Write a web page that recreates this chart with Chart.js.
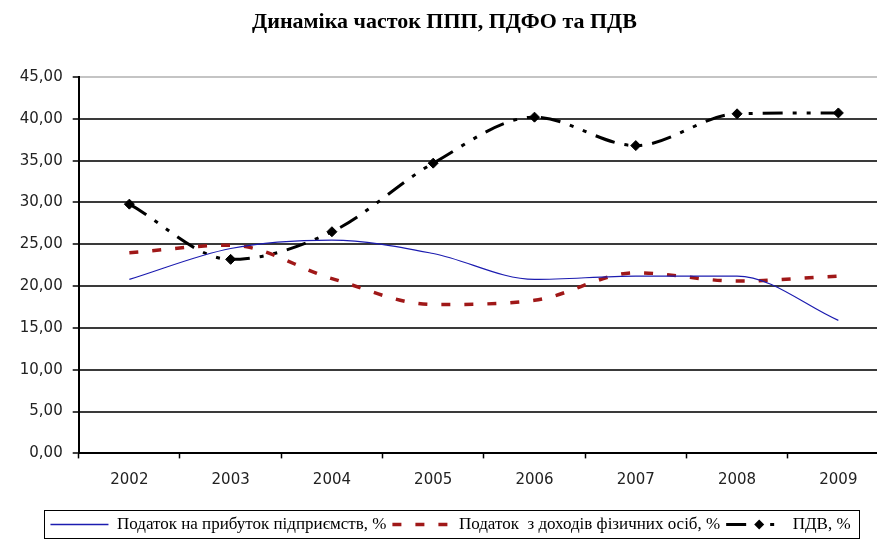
<!DOCTYPE html>
<html>
<head>
<meta charset="utf-8">
<script src="https://cdn.jsdelivr.net/npm/chart.js@4.4.0/dist/chart.umd.min.js"></script>
<style>
html, body { margin: 0; padding: 0; background: #fff; overflow: hidden; }
#wrap { width: 877px; height: 544px; overflow: hidden; }
canvas { display: block; }
</style>
</head>
<body>
<div id="wrap"><canvas id="taxChart" width="900" height="544"></canvas></div>
<script>
// Роки та частки податків, %
const years = ['2002', '2003', '2004', '2005', '2006', '2007', '2008', '2009'];
const ppp  = [20.8, 24.5, 25.5, 23.9, 20.8, 21.2, 21.2, 15.9];
const pdfo = [24.0, 24.9, 20.9, 17.8, 18.3, 21.6, 20.6, 21.2];
const pdv  = [29.8, 23.2, 26.5, 34.7, 40.2, 36.8, 40.6, 40.7];
const yTicks = [0, 5, 10, 15, 20, 25, 30, 35, 40, 45];

const seriesNames = [
    'Податок на прибуток підприємств, %',
    'Податок  з доходів фізичних осіб, %',
    'ПДВ, %'
];

// рамка легенди та ромб на зразку ПДВ
const legendFrame = {
    id: 'legendFrame',
    afterLayout(chart) {
        // легенда трохи правіше, як в оригіналі
        chart.legend.left += 6;
        chart.legend.right += 6;
    },
    afterDraw(chart) {
        const hb = chart.legend.legendHitBoxes;
        if (!hb || !hb.length) return;
        const ctx = chart.ctx;
        const first = hb[0], last = hb[hb.length - 1];
        const x0 = Math.round(first.left) - 5.5;
        const x1 = Math.round(last.left + last.width) + 8.5;
        const y0 = Math.round(first.top) - 5.5;
        const y1 = Math.round(first.top + first.height) + 5.5;
        ctx.save();
        ctx.strokeStyle = '#000';
        ctx.lineWidth = 1;
        ctx.strokeRect(x0, y0, x1 - x0, y1 - y0);
        // ромб
        const b = hb[2];
        const cx = b.left + 33, cy = b.top + b.height / 2;
        ctx.fillStyle = '#000';
        ctx.beginPath();
        ctx.moveTo(cx, cy - 5);
        ctx.lineTo(cx + 5, cy);
        ctx.lineTo(cx, cy + 5);
        ctx.lineTo(cx - 5, cy);
        ctx.closePath();
        ctx.fill();
        ctx.restore();
    }
};

const ctx = document.getElementById('taxChart').getContext('2d');
new Chart(ctx, {
    type: 'line',
    data: {
        labels: years,
        datasets: [
            {
                label: seriesNames[0],
                data: ppp,
                borderColor: '#1c1cb0',
                borderWidth: 1.2,
                pointRadius: 0,
                cubicInterpolationMode: 'monotone',
                fill: false
            },
            {
                label: seriesNames[1],
                data: pdfo,
                borderColor: '#a01818',
                borderWidth: 3.5,
                borderDash: [9, 14],
                pointRadius: 0,
                cubicInterpolationMode: 'monotone',
                fill: false
            },
            {
                label: seriesNames[2],
                data: pdv,
                borderColor: '#000',
                borderWidth: 3,
                borderDash: [20, 10, 4, 10, 4, 10],
                pointStyle: 'rectRot',
                pointRadius: 5,
                pointBackgroundColor: '#000',
                pointBorderColor: '#000',
                pointBorderWidth: 1,
                cubicInterpolationMode: 'monotone',
                fill: false
            }
        ]
    },
    options: {
        responsive: false,
        animation: false,
        layout: { padding: { left: 0, right: 11, top: 0, bottom: 1 } },
        plugins: {
            title: {
                display: true,
                text: 'Динаміка часток ППП, ПДФО та ПДВ',
                color: '#000',
                font: { family: 'Liberation Serif', size: 22, weight: 'bold' },
                padding: { top: 9, bottom: 41.6 }
            },
            legend: {
                position: 'bottom',
                labels: {
                    color: '#000',
                    font: { family: 'Liberation Serif', size: 17 },
                    usePointStyle: true,
                    pointStyleWidth: 58,
                    boxHeight: 10,
                    padding: 6,
                    generateLabels(chart) {
                        return chart.data.datasets.map((ds, i) => ({
                            text: ds.label,
                            strokeStyle: ds.borderColor,
                            fillStyle: ds.borderColor,
                            lineWidth: i === 0 ? 1.5 : ds.borderWidth,
                            lineDash: ds.borderDash || [],
                            pointStyle: 'line',
                            fontColor: '#000',
                            hidden: false,
                            datasetIndex: i
                        }));
                    }
                }
            },
            tooltip: { enabled: false }
        },
        scales: {
            x: {
                offset: true,
                afterFit(scale) { scale.height = 56.6; },
                grid: {
                    offset: true,
                    drawOnChartArea: false,
                    drawTicks: true,
                    tickLength: 5,
                    tickColor: '#000',
                    tickWidth: 1.5
                },
                border: { color: '#000', width: 2 },
                ticks: {
                    color: '#222',
                    font: { family: 'DejaVu Sans', size: 15 },
                    padding: 13,
                    maxRotation: 0
                }
            },
            y: {
                min: 0,
                max: 45,
                afterFit(scale) { scale.width = 78.7; },
                afterBuildTicks(scale) {
                    scale.ticks = yTicks.map(v => ({ value: v }));
                },
                grid: {
                    color: c => (c.tick && c.tick.value === 45 ? '#c4c4c4' : '#3a3a3a'),
                    lineWidth: 2,
                    drawTicks: true,
                    tickLength: 6,
                    tickColor: '#000',
                    tickWidth: 1.5
                },
                border: { color: '#000', width: 2 },
                ticks: {
                    color: '#222',
                    font: { family: 'DejaVu Sans', size: 15 },
                    padding: 10,
                    callback: v => v.toFixed(2).replace('.', ',')
                }
            }
        }
    },
    plugins: [legendFrame]
});
</script>
</body>
</html>
